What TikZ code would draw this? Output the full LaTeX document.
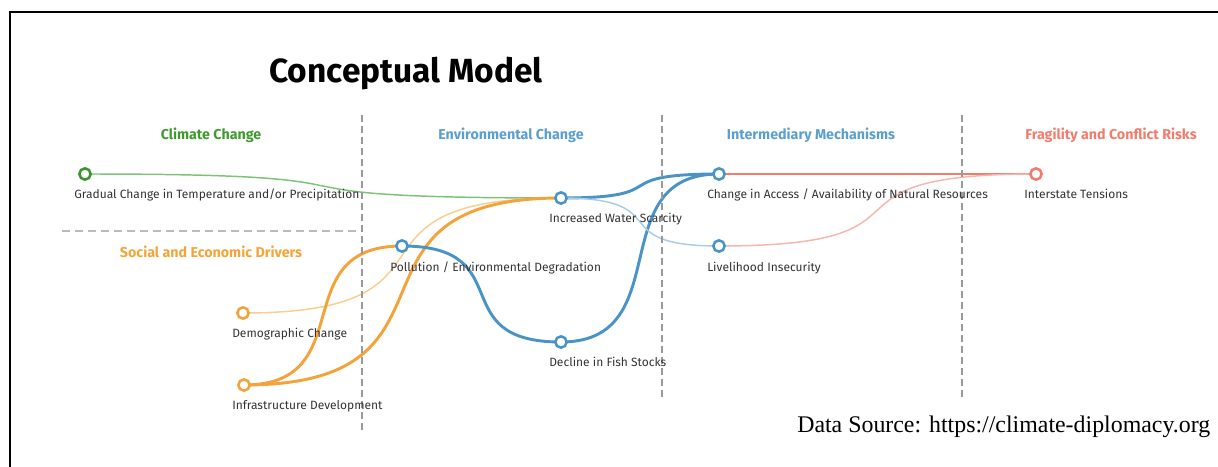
\documentclass[tikz,border=0pt]{standalone}
\usepackage{fontspec}
\setmainfont{Fira Sans}
\newfontfamily\timesfont{Liberation Serif}
\usetikzlibrary{backgrounds}
\definecolor{cgreen}{HTML}{3A962C}
\definecolor{cgreenl}{HTML}{7CC377}
\definecolor{cblue}{HTML}{4A93C6}
\definecolor{cbluel}{HTML}{A9CCE6}
\definecolor{corange}{HTML}{F4A23A}
\definecolor{corangel}{HTML}{F8CF8E}
\definecolor{cred}{HTML}{F07C6E}
\definecolor{credl}{HTML}{F5B6AE}
\definecolor{chgreen}{HTML}{3E9A2F}
\definecolor{chblue}{HTML}{5A9FD0}
\definecolor{chorange}{HTML}{F5A43A}
\definecolor{chred}{HTML}{F27C6C}
\definecolor{labgray}{HTML}{333333}
\definecolor{sepgray}{HTML}{9A9A9A}
\definecolor{sepgrayl}{HTML}{BBBBBB}
\tikzset{
  dot/.style={circle,draw=#1,fill=white,line width=1.9pt,minimum size=8.5pt,inner sep=0pt},
  lab/.style={anchor=base west,inner sep=0pt,font=\fontsize{9}{11}\selectfont,text=labgray},
  head/.style={anchor=base,inner sep=0pt,font=\fontsize{10.7}{13}\selectfont\bfseries,text=#1},
  thicklink/.style={line width=2.2pt,draw=#1},
  thinlink/.style={line width=1.1pt,draw=#1},
  vsep/.style={draw=sepgray,line width=0.8pt,dash pattern=on 5.25pt off 3pt},
  hsep/.style={draw=sepgrayl,line width=1.5pt,dash pattern=on 6pt off 3.75pt},
}
\begin{document}
\begin{tikzpicture}[x=0.75pt,y=-0.75pt]
\useasboundingbox (0,0) rectangle (1218,467);
% frame
\draw[line width=1.6pt] (10,467) -- (10,12) -- (1218,12);
% title
\node[anchor=base,inner sep=0pt,font=\fontsize{25.1}{30}\selectfont\bfseries] (title) at (406,83) {Conceptual Model};
% headers
\node[head=chgreen] (h1) at (211,140) {Climate Change};
\node[head=chblue] (h2) at (511,140) {Environmental Change};
\node[head=chblue] (h3) at (811,140) {Intermediary Mechanisms};
\node[head=chred] (h4) at (1111,140) {Fragility and Conflict Risks};
\node[head=chorange] (h5) at (211,257) {Social and Economic Drivers};
% separators
\coordinate (s1t) at (362,115); \coordinate (s1b) at (362,432);
\coordinate (s2t) at (662,115); \coordinate (s2b) at (662,397);
\coordinate (s3t) at (962,115); \coordinate (s3b) at (962,397);
\coordinate (hl) at (62,231); \coordinate (hr) at (358,231);
\draw[vsep] (s1t) -- (s1b);
\draw[vsep] (s2t) -- (s2b);
\draw[vsep] (s3t) -- (s3b);
\draw[hsep] (hl) -- (hr);
% nodes
\node[dot=cgreen] (g) at (85,174) {};
\node[dot=cblue] (ws) at (561,198) {};
\node[dot=cblue] (acc) at (719,174) {};
\node[dot=cblue] (liv) at (719,246) {};
\node[dot=cred] (int) at (1036,174) {};
\node[dot=cblue] (pol) at (402,246) {};
\node[dot=cblue] (fish) at (561,342) {};
\node[dot=corange] (demo) at (243,313) {};
\node[dot=corange] (infra) at (244,385) {};
% labels
\node[lab] (gl) at (74,198.5) {Gradual Change in Temperature and/or Precipitation};
\node[lab] (wsl) at (549,222.5) {Increased Water Scarcity};
\node[lab] (accl) at (707,198.5) {Change in Access / Availability of Natural Resources};
\node[lab] (livl) at (707,271.5) {Livelihood Insecurity};
\node[lab] (intl) at (1024,198.5) {Interstate Tensions};
\node[lab] (poll) at (390,271.5) {Pollution / Environmental Degradation};
\node[lab] (fishl) at (549,366.5) {Decline in Fish Stocks};
\node[lab] (demol) at (232,337.5) {Demographic Change};
\node[lab] (infral) at (232,409.5) {Infrastructure Development};
% source
\node[anchor=base west,inner sep=0pt,font=\timesfont\fontsize{17.9}{21}\selectfont] (src) at (797,432) {Data Source: https://climate-diplomacy.org};
% links
\begin{pgfonlayer}{background}
\draw[thinlink=cgreenl] (g.center) .. controls +(357,0) and +(-357,0) .. (ws.center);
\draw[thinlink=corangel] (demo.center) .. controls +(238,0) and +(-238,0) .. (ws.center);
\draw[thicklink=corange] (infra.center) .. controls +(238,0) and +(-238,0) .. (ws.center);
\draw[thicklink=corange] (infra.center) .. controls +(118,0) and +(-118,0) .. (pol.center);
\draw[thicklink=cblue] (pol.center) .. controls +(119,0) and +(-119,0) .. (fish.center);
\draw[thicklink=cblue] (fish.center) .. controls +(118,0) and +(-118,0) .. (acc.center);
\draw[thicklink=cblue] (ws.center) .. controls +(118,0) and +(-118,0) .. (acc.center);
\draw[thinlink=cbluel] (ws.center) .. controls +(118,0) and +(-118,0) .. (liv.center);
\draw[thicklink=cred] (acc.center) -- (int.center);
\draw[thinlink=credl] (liv.center) .. controls +(238,0) and +(-238,0) .. (int.center);
\end{pgfonlayer}
\end{tikzpicture}
\end{document}
